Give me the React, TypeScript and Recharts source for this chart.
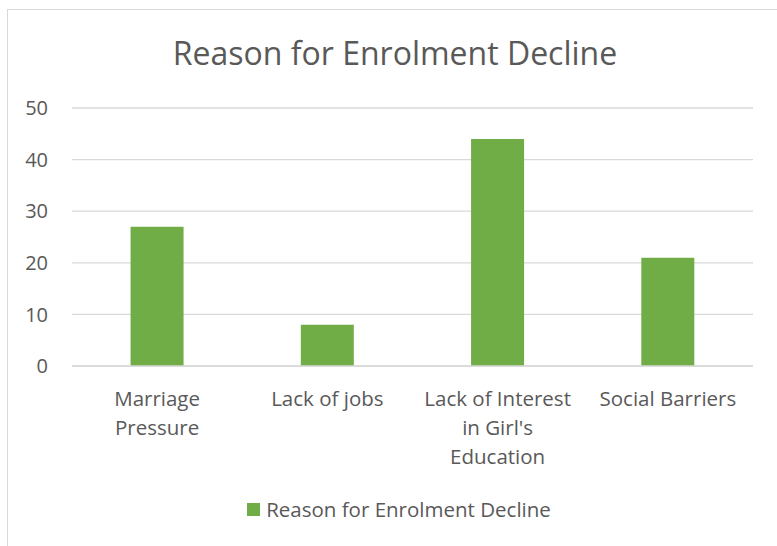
import { Bar, BarChart, CartesianGrid, Legend, XAxis, YAxis } from "recharts";

const CATEGORIES = ["Marriage Pressure", "Lack of jobs", "Lack of Interest in Girl's Education", "Social Barriers"];
const DECLINE_VALUES = [27, 8, 44, 21];
const Y_TICKS = [0, 10, 20, 30, 40, 50];
const SERIES_NAME = "Reason for Enrolment Decline";

const data = CATEGORIES.map((name, i) => ({ name, value: DECLINE_VALUES[i] }));

const FONT = "'Open Sans', 'Noto Sans', sans-serif";
const TEXT = "#595959";
const GRID = "#d9d9d9";
const GREEN = "#70ad47";

// greedy wrap, roughly like Excel does for category labels
function wrap(label: string, max = 16) {
  const lines: string[] = [];
  let cur = "";
  for (const w of label.split(" ")) {
    if (cur && (cur + " " + w).length > max) {
      lines.push(cur);
      cur = w;
    } else {
      cur = cur ? cur + " " + w : w;
    }
  }
  if (cur) lines.push(cur);
  return lines;
}

function CategoryTick({ x, y, payload }: any) {
  const lines = wrap(String(payload.value));
  return (
    <text x={x} y={y + 38} textAnchor="middle" fill={TEXT} fontSize={20.5} fontFamily={FONT}>
      {lines.map((l, i) => (
        <tspan key={i} x={x} dy={i === 0 ? 0 : 29}>
          {l}
        </tspan>
      ))}
    </text>
  );
}

function LegendContent() {
  return (
    <div style={{ height: 30, display: "flex", alignItems: "center", justifyContent: "center", fontFamily: FONT, fontSize: 20.5, color: TEXT }}>
      <span style={{ width: 13, height: 13, background: GREEN, marginRight: 6, display: "inline-block" }} />
      <span>{SERIES_NAME}</span>
    </div>
  );
}

export default function App() {
  return (
    <div style={{ position: "relative", width: 777, height: 546, overflow: "hidden", background: "#fff" }}>
      <style>{`body{margin:0}`}</style>
      <div style={{ position: "absolute", left: 7, top: 9, width: 820, height: 620, border: `1px solid ${GRID}` }} />
      <div
        style={{
          position: "absolute",
          left: 0,
          top: 37,
          width: 790,
          textAlign: "center",
          fontFamily: FONT,
          fontSize: 32,
          lineHeight: "32px",
          color: TEXT,
        }}
      >
        {SERIES_NAME}
      </div>
      <BarChart
        width={777}
        height={546}
        data={data}
        margin={{ top: 108, right: 24, left: 0, bottom: 0 }}
        barCategoryGap="34.4%"
        style={{ position: "absolute", left: 0, top: 0 }}
      >
        <CartesianGrid stroke={GRID} strokeWidth={1.3} vertical={false} />
        <XAxis
          dataKey="name"
          interval={0}
          height={150}
          tickLine={false}
          tickSize={0}
          axisLine={{ stroke: GRID, strokeWidth: 1.3 }}
          tick={<CategoryTick />}
        />
        <YAxis
          width={72}
          domain={[0, 50]}
          ticks={Y_TICKS}
          axisLine={false}
          tickLine={false}
          tickSize={0}
          tickMargin={24}
          tick={{ fill: TEXT, fontSize: 20, fontFamily: FONT }}
        />
        <Legend verticalAlign="bottom" content={<LegendContent />} wrapperStyle={{ left: 0, width: 798, bottom: 22 }} />
        <Bar dataKey="value" name={SERIES_NAME} fill={GREEN} isAnimationActive={false} />
      </BarChart>
    </div>
  );
}
